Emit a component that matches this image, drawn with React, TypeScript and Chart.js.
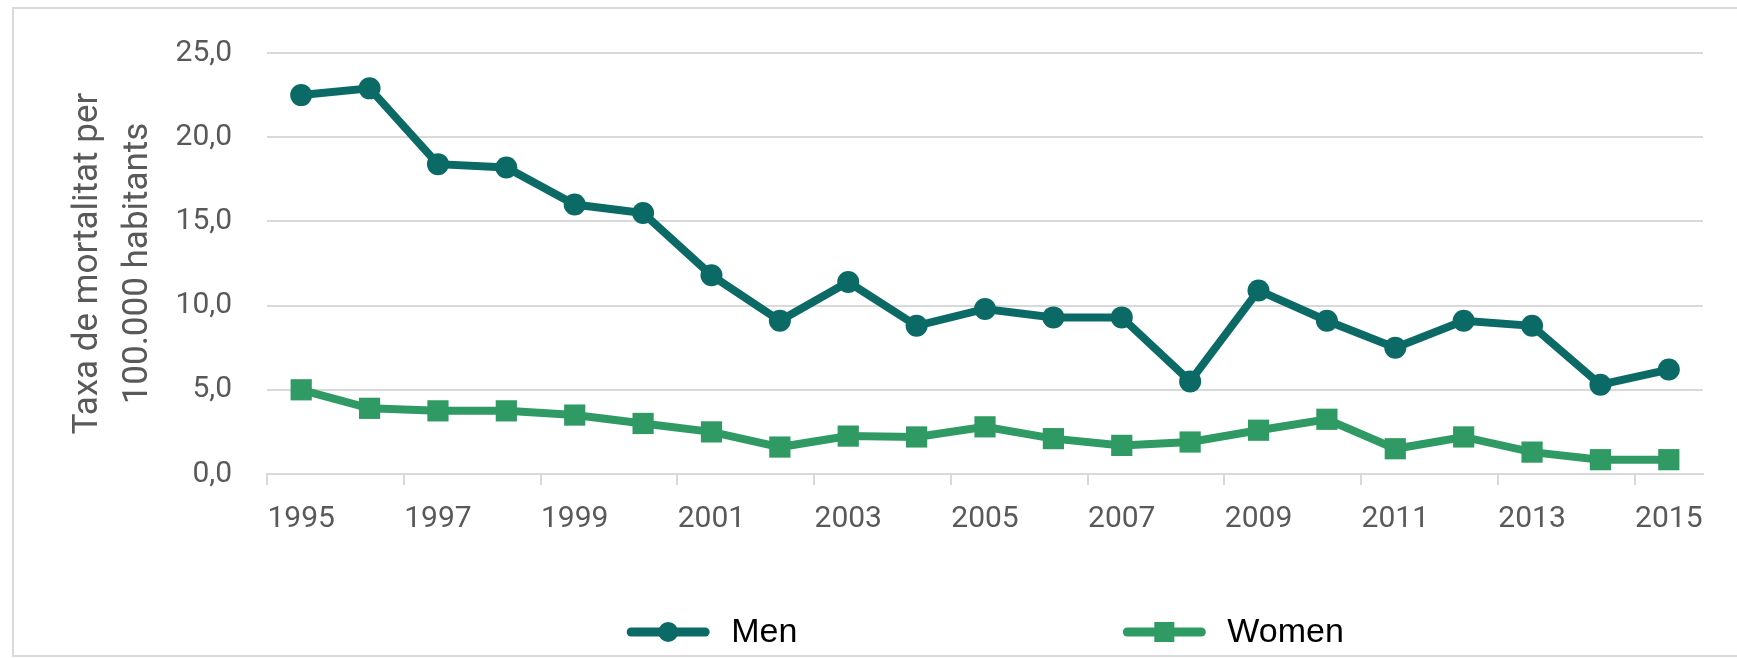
import React, { useEffect, useRef } from 'react';
import { Chart, registerables } from 'chart.js';

Chart.register(...registerables);

const years = [
  '1995', '1996', '1997', '1998', '1999', '2000', '2001', '2002', '2003', '2004', '2005',
  '2006', '2007', '2008', '2009', '2010', '2011', '2012', '2013', '2014', '2015',
];
const menValues = [22.5, 22.9, 18.4, 18.2, 16.0, 15.5, 11.8, 9.1, 11.4, 8.8, 9.8, 9.3, 9.3, 5.5, 10.9, 9.1, 7.5, 9.1, 8.8, 5.3, 6.2];
const womenValues = [5.0, 3.9, 3.75, 3.75, 3.5, 3.0, 2.5, 1.6, 2.25, 2.2, 2.8, 2.1, 1.7, 1.9, 2.6, 3.25, 1.5, 2.2, 1.3, 0.85, 0.85];
const seriesNames = ['Men', 'Women'];
const axisTitle = ['Taxa de mortalitat per', '100.000 habitants'];
const yMin = 0;
const yMax = 25;
const yStep = 5;

const MEN_COLOR = '#0c6a66';
const WOMEN_COLOR = '#2f9a63';
const GRID_COLOR = '#d9d9d9';
const TEXT_COLOR = '#595959';

const lineLegend = {
  id: 'lineLegend',
  afterDraw(chart: any) {
    const { ctx, chartArea } = chart;
    const items = chart.data.datasets.map((ds: any) => ({
      label: ds.label,
      color: ds.borderColor,
      style: ds.pointStyle,
    }));
    ctx.save();
    ctx.font = '34px "Liberation Sans", Arial, sans-serif';
    const boxW = 84;
    const gapText = 21;
    const gapItems = 325;
    const widths = items.map((it: any) => boxW + gapText + ctx.measureText(it.label).width);
    const total = widths.reduce((a: number, b: number) => a + b, 0) + gapItems * (items.length - 1);
    let x = (chartArea.left + chartArea.right) / 2 - total / 2;
    const y = chart.height - 26;
    items.forEach((it: any, i: number) => {
      ctx.strokeStyle = it.color;
      ctx.fillStyle = it.color;
      ctx.lineWidth = 9;
      ctx.lineCap = 'round';
      ctx.beginPath();
      ctx.moveTo(x + 5, y);
      ctx.lineTo(x + boxW - 5, y);
      ctx.stroke();
      const cx = x + boxW / 2;
      if (it.style === 'rect') {
        ctx.fillRect(cx - 10, y - 10, 20, 20);
      } else {
        ctx.beginPath();
        ctx.arc(cx, y, 10, 0, Math.PI * 2);
        ctx.fill();
      }
      ctx.fillStyle = '#000000';
      ctx.textBaseline = 'middle';
      ctx.textAlign = 'left';
      ctx.fillText(it.label, x + boxW + gapText, y + 1);
      x += widths[i] + gapItems;
    });
    ctx.restore();
  },
};

export default function App() {
  const canvasRef = useRef<HTMLCanvasElement | null>(null);

  useEffect(() => {
    if (!canvasRef.current) return;
    const chart = new Chart(canvasRef.current, {
      type: 'line',
      data: {
        labels: years,
        datasets: [
          {
            label: seriesNames[0],
            data: menValues,
            borderColor: MEN_COLOR,
            backgroundColor: MEN_COLOR,
            borderWidth: 8,
            pointStyle: 'circle',
            pointRadius: 11,
            pointBorderWidth: 0,
            pointBackgroundColor: MEN_COLOR,
            tension: 0,
          },
          {
            label: seriesNames[1],
            data: womenValues,
            borderColor: WOMEN_COLOR,
            backgroundColor: WOMEN_COLOR,
            borderWidth: 8,
            pointStyle: 'rect',
            pointRadius: 15,
            pointBorderWidth: 0,
            pointBackgroundColor: WOMEN_COLOR,
            tension: 0,
          },
        ],
      },
      options: {
        responsive: false,
        animation: false,
        devicePixelRatio: 1,
        layout: { padding: { left: 63, right: 34, top: 52, bottom: 124 } },
        plugins: {
          legend: { display: false },
          tooltip: { enabled: false },
        },
        scales: {
          x: {
            type: 'category',
            offset: true,
            afterFit: (scale: any) => {
              scale.height = 60;
            },
            grid: {
              offset: true,
              drawOnChartArea: false,
              drawTicks: true,
              tickLength: 11,
              lineWidth: 2,
              color: (ctx: any) => (typeof ctx.index === 'number' && ctx.index % 2 === 0 ? GRID_COLOR : 'rgba(0,0,0,0)'),
              tickColor: (ctx: any) => (typeof ctx.index === 'number' && ctx.index % 2 === 0 ? GRID_COLOR : 'rgba(0,0,0,0)'),
            },
            border: { display: true, color: GRID_COLOR, width: 2 },
            ticks: {
              autoSkip: false,
              maxRotation: 0,
              padding: 16,
              color: TEXT_COLOR,
              font: { family: 'Roboto', size: 30 },
              callback: (_v: any, index: number) => (index % 2 === 0 ? years[index] : ''),
            },
          },
          y: {
            min: yMin,
            max: yMax,
            afterFit: (scale: any) => {
              scale.width = 204;
            },
            grid: {
              color: GRID_COLOR,
              lineWidth: 2,
              drawTicks: false,
            },
            border: { display: false },
            ticks: {
              stepSize: yStep,
              padding: 35,
              color: TEXT_COLOR,
              font: { family: 'Roboto', size: 30 },
              callback: (v: any) => Number(v).toFixed(1).replace('.', ','),
            },
            title: {
              display: true,
              text: axisTitle,
              color: TEXT_COLOR,
              font: { family: 'Roboto', size: 35, lineHeight: 50 / 35 },
              padding: { top: 0, bottom: 10 },
            },
          },
        },
      },
      plugins: [lineLegend],
    });
    return () => chart.destroy();
  }, []);

  return (
    <div style={{ position: 'fixed', left: 0, top: 0, width: 1737, height: 658, overflow: 'hidden', background: '#ffffff' }}>
      <div
        style={{
          position: 'absolute',
          left: 12,
          top: 7,
          width: 1800,
          height: 646,
          borderLeft: `2px solid ${GRID_COLOR}`,
          borderTop: `2px solid ${GRID_COLOR}`,
          borderBottom: `2px solid ${GRID_COLOR}`,
        }}
      />
      <canvas ref={canvasRef} width={1737} height={658} style={{ position: 'absolute', left: 0, top: 0 }} />
    </div>
  );
}
